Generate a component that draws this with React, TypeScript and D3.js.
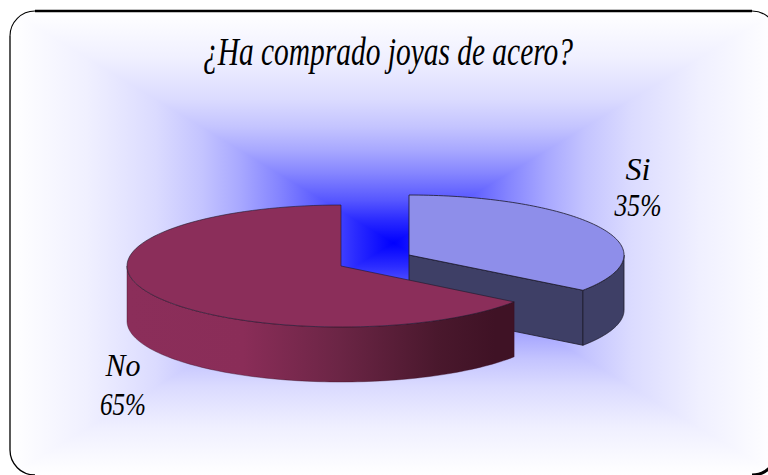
import React from "react";
import * as d3 from "d3";

const categories = ["Si", "No"];
const shares = [35, 65];
const chartTitle = "¿Ha comprado joyas de acero?";

const W = 768;
const H = 475;

// Panel with a rectangular "path" gradient: blue at the centre, white on the rim
const panel = { x: 10, y: 11, w: 767, h: 464, r: 25 };
const glowStops: [number, number][] = [
  [0, 0], [0.1, 0.17], [0.185, 0.34], [0.3, 0.52], [0.4, 0.66],
  [0.5, 0.77], [0.62, 0.86], [0.8, 0.94], [1, 1],
];

const faces = [
  { cx: 409, cy: 255, rx: 215, ry: 60, depth: 55, top: "#8e8eea", wall: "#3e3f66" },
  { cx: 341, cy: 266, rx: 214, ry: 61, depth: 55, top: "#8b2e5a", wall: "url(#noWall)" },
];
const noWallStops: [number, string][] = [
  [0, "#8b2e5a"], [0.3, "#8a2d58"], [0.55, "#6b2545"], [0.8, "#4a182d"], [0.95, "#3f1225"], [1, "#3f1225"],
];

const labels = [
  { lines: ["Si", "35%"], x: 638, y: [180, 216], len: [25, 47] },
  { lines: ["No", "65%"], x: 123, y: [376, 415], len: [35, 46] },
];

const TEXT_FONT = "'Liberation Serif', serif";
const EDGE = "#1d1a2a";

type Face = (typeof faces)[number];

const pieAngles = d3.pie<number>().sort(null).startAngle(0).endAngle(2 * Math.PI)(shares);

const onRim = (f: Face, a: number, drop = 0): [number, number] => [
  f.cx + f.rx * Math.sin(a),
  f.cy - f.ry * Math.cos(a) + drop,
];

const line = d3.line();

const rimPoints = (f: Face, a0: number, a1: number, drop = 0) =>
  d3.range(0, 97).map((i) => onRim(f, a0 + ((a1 - a0) * i) / 96, drop));

const topFace = (f: Face, a0: number, a1: number) =>
  line([[f.cx, f.cy], ...rimPoints(f, a0, a1)]) + "Z";

// Outer wall below the rim between two angles
const rimWall = (f: Face, a0: number, a1: number) =>
  line([...rimPoints(f, a0, a1), ...rimPoints(f, a1, a0, f.depth)]) + "Z";

// Flat cut wall running from the apex to the rim
const cutWall = (f: Face, a: number) => {
  const [x, y] = onRim(f, a);
  return line([[f.cx, f.cy], [x, y], [x, y + f.depth], [f.cx, f.cy + f.depth]]) + "Z";
};

function blueAt(t: number) {
  const v = Math.round(t * 255);
  return `rgb(${v},${v},255)`;
}

function GlowGradient({ id, x2, y2, x1, y1 }: { id: string; x1: number; y1: number; x2: number; y2: number }) {
  return (
    <linearGradient id={id} gradientUnits="userSpaceOnUse" x1={x1} y1={y1} x2={x2} y2={y2}>
      {glowStops.map(([o, t]) => (
        <stop key={o} offset={o} stopColor={blueAt(t)} />
      ))}
    </linearGradient>
  );
}

export default function App() {
  const px = panel.x, py = panel.y;
  const qx = panel.x + panel.w, qy = panel.y + panel.h;
  const mx = px + panel.w / 2, my = py + panel.h / 2;

  const [si, no] = faces;
  const siArc = pieAngles[0];
  const noArc = pieAngles[1];
  const noX0 = no.cx - no.rx;
  const noX1 = onRim(no, noArc.startAngle)[0];

  const edgeProps = { stroke: EDGE, strokeWidth: 0.8, strokeLinejoin: "round" as const };

  return (
    <svg
      width={W}
      height={H}
      viewBox={`0 0 ${W} ${H}`}
      style={{ position: "absolute", left: 0, top: 0, display: "block", background: "#fff" }}
    >
      <defs>
        <clipPath id="panelClip">
          <rect x={panel.x} y={panel.y} width={panel.w} height={panel.h} rx={panel.r} />
        </clipPath>
        <GlowGradient id="glowL" x1={mx} y1={my} x2={px} y2={my} />
        <GlowGradient id="glowR" x1={mx} y1={my} x2={qx} y2={my} />
        <GlowGradient id="glowT" x1={mx} y1={my} x2={mx} y2={py} />
        <GlowGradient id="glowB" x1={mx} y1={my} x2={mx} y2={qy} />
        <linearGradient id="noWall" gradientUnits="userSpaceOnUse" x1={noX0} y1={0} x2={noX1} y2={0}>
          {noWallStops.map(([o, c]) => (
            <stop key={o} offset={o} stopColor={c} />
          ))}
        </linearGradient>
      </defs>

      {/* Side halves underneath, top and bottom wedges over them so no diagonal seam shows */}
      <g clipPath="url(#panelClip)">
        <rect x={px} y={py} width={mx - px + 1} height={panel.h} fill="url(#glowL)" shapeRendering="crispEdges" />
        <rect x={mx} y={py} width={qx - mx} height={panel.h} fill="url(#glowR)" shapeRendering="crispEdges" />
        <polygon points={`${mx},${my} ${px},${py} ${qx},${py}`} fill="url(#glowT)" shapeRendering="crispEdges" />
        <polygon points={`${mx},${my} ${px},${qy} ${qx},${qy}`} fill="url(#glowB)" shapeRendering="crispEdges" />
      </g>

      {/* Frame: heavy on the top and at the lower right, light down the left */}
      <path
        d={`M${px},${py + panel.r} A${panel.r},${panel.r} 0 0 1 ${px + panel.r},${py} H${qx - panel.r} A${panel.r},${panel.r} 0 0 1 ${qx},${py + panel.r}`}
        fill="none"
        stroke="#000"
        strokeWidth={1.1}
      />
      <line x1={px + panel.r} y1={py} x2={qx - panel.r} y2={py} stroke="#000" strokeWidth={2.4} />
      <path
        d={`M${px},${py + panel.r} V${qy - panel.r} A${panel.r},${panel.r} 0 0 0 ${px + panel.r},${qy}`}
        fill="none"
        stroke="#000"
        strokeWidth={1.3}
      />
      <path
        d={`M${qx - panel.r},${qy} A${panel.r},${panel.r} 0 0 0 ${qx},${qy - panel.r}`}
        fill="none"
        stroke="#000"
        strokeWidth={3}
      />

      {/* Si wedge, pulled out of the pie */}
      <path d={cutWall(si, siArc.endAngle)} fill={si.wall} {...edgeProps} />
      <path d={rimWall(si, Math.PI / 2, siArc.endAngle)} fill={si.wall} {...edgeProps} />
      <path d={topFace(si, siArc.startAngle, siArc.endAngle)} fill={si.top} {...edgeProps} />

      {/* No wedge */}
      <path d={rimWall(no, noArc.startAngle, (3 * Math.PI) / 2)} fill={no.wall} stroke="#3a1024" strokeWidth={0.4} />
      <path d={topFace(no, noArc.startAngle, noArc.endAngle)} fill={no.top} stroke={EDGE} strokeWidth={0.6} strokeLinejoin="round" />

      <text
        x={388}
        y={65}
        textAnchor="middle"
        fontFamily={TEXT_FONT}
        fontStyle="italic"
        fontSize={39}
        textLength={370}
        lengthAdjust="spacingAndGlyphs"
        fill="#000"
      >
        {chartTitle}
      </text>

      {labels.map((l, i) =>
        l.lines.map((txt, j) => (
          <text
            key={categories[i] + j}
            x={l.x}
            y={l.y[j]}
            textAnchor="middle"
            fontFamily={TEXT_FONT}
            fontStyle="italic"
            fontSize={32}
            textLength={l.len[j]}
            lengthAdjust="spacingAndGlyphs"
            fill="#000"
          >
            {txt}
          </text>
        ))
      )}
    </svg>
  );
}
